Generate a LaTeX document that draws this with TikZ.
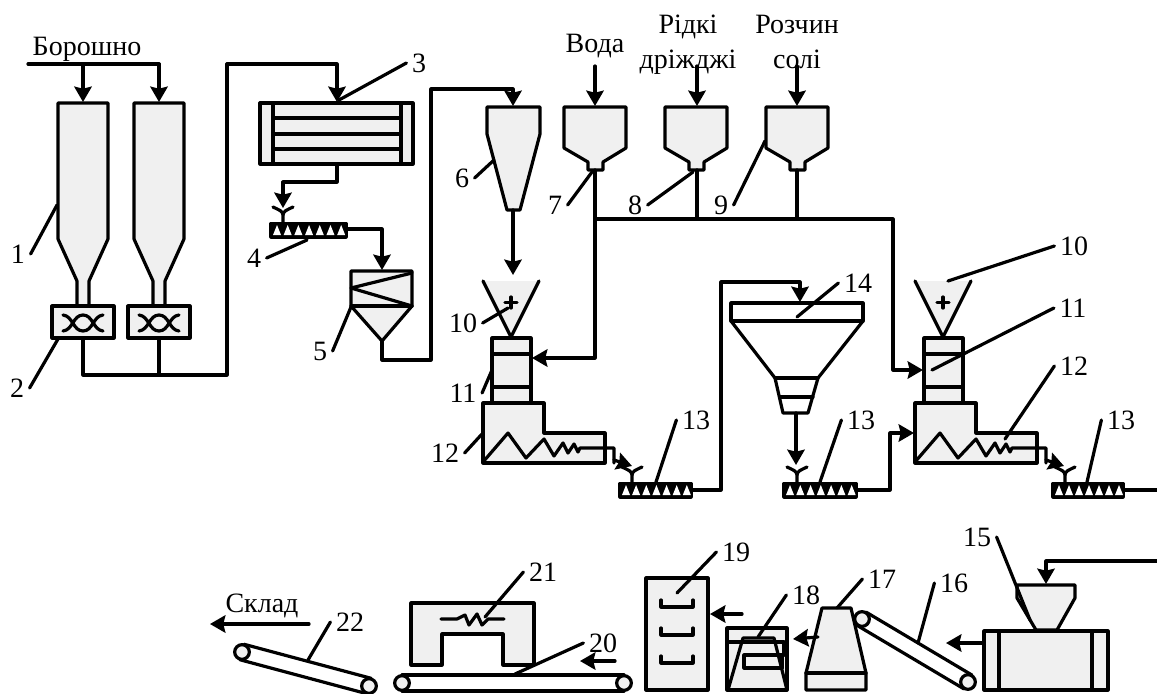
\documentclass[tikz,border=0pt]{standalone}
\usepackage{fontspec}
\setmainfont{Liberation Serif}
\usepackage{xcolor}
\usetikzlibrary{arrows.meta,calc}
\definecolor{unitgray}{HTML}{F0F0F0}
\tikzset{
  wire/.style={line width=2.4pt, line join=round, line cap=round},
  unit/.style={wire, fill=unitgray},
  flow/.style={wire, -{Stealth[length=11.5pt,width=13pt,inset=1.5pt]}},
  numlabel/.style={inner sep=4pt, font=\fontsize{21}{24}\selectfont},
  textlabel/.style={inner sep=0pt, anchor=base, font=\fontsize{21}{24}\selectfont},
}
\begin{document}
\begin{tikzpicture}[x=0.75pt, y=-0.75pt]
  \useasboundingbox (0,0) rectangle (1157,693);

  % silos 1 and mixers 2
  \foreach \sx in {83,159} {
    \draw[unit] (\sx-25,103) -- (\sx+25,103) -- (\sx+25,239) -- (\sx+6,281) -- (\sx+6,306)
      -- (\sx-6,306) -- (\sx-6,281) -- (\sx-25,239) -- cycle;
    \draw[unit] (\sx-31,306) rectangle (\sx+31,338);
    \draw[wire] (\sx-20,315) .. controls (\sx-10,316) and (\sx-10,331) .. (\sx,331)
      .. controls (\sx+10,331) and (\sx+10,316) .. (\sx+20,315);
    \draw[wire] (\sx-20,331) .. controls (\sx-10,330) and (\sx-10,315) .. (\sx,315)
      .. controls (\sx+10,315) and (\sx+10,330) .. (\sx+20,331);
  }

  % heat exchanger 3
  \draw[unit] (260,103) rectangle (413,164);
  \draw[wire] (273,103) -- (273,164);
  \draw[wire] (401,103) -- (401,164);
  \foreach \ly in {118,134,149} \draw[wire] (273,\ly) -- (401,\ly);

  % screws 4 and 13
  \foreach \sx/\sy/\sw/\st in {270/222/77/283, 619/482/73/632, 783/482/74/797, 1052/482/72/1065} {
    \fill[black, draw=black, wire] (\sx+1,\sy+1.5) rectangle (\sx+\sw-1,\sy+15);
    \foreach \k in {0,...,6}
      \fill[white] (\sx+7+\k*\sw/7.2-4,\sy+13) -- (\sx+7+\k*\sw/7.2+4,\sy+13) -- (\sx+7+\k*\sw/7.2,\sy+3) -- cycle;
    \draw[wire] (\st-10,\sy-15) .. controls (\st-4,\sy-12) and (\st,\sy-11) .. (\st,\sy-7) -- (\st,\sy);
    \draw[wire] (\st+10,\sy-15) .. controls (\st+4,\sy-12) and (\st,\sy-11) .. (\st,\sy-7);
  }

  % bunker 5
  \draw[unit] (351,271) -- (412,271) -- (412,306) -- (382,341) -- (351,306) -- cycle;
  \draw[wire] (351,306) -- (412,306);
  \draw[wire] (412,273) -- (351,288) -- (412,306);

  % cyclone 6
  \draw[unit] (487,107) -- (540,107) -- (540,134) -- (520,210) -- (507,210) -- (487,134) -- cycle;

  % tanks 7, 8, 9
  \foreach \sx in {595,696,797} {
    \draw[unit] (\sx-31,107) -- (\sx+31,107) -- (\sx+31,148) -- (\sx+8,162) -- (\sx+8,170)
      -- (\sx-7,170) -- (\sx-7,162) -- (\sx-31,148) -- cycle;
  }

  % dosers 10, kneaders 11, tanks 12
  \foreach \sx in {0,432} {
    \fill[unitgray] (\sx+483,281) -- (\sx+539,281) -- (\sx+511,337) -- cycle;
    \draw[wire] (\sx+483,281) -- (\sx+511,337) -- (\sx+539,281);
    \draw[wire] (\sx+505,302.5) -- (\sx+517,302.5);
    \draw[wire] (\sx+511,297) -- (\sx+511,308);
    \draw[unit] (\sx+492,338) rectangle (\sx+531,403);
    \draw[wire] (\sx+492,354) -- (\sx+531,354);
    \draw[wire] (\sx+492,387) -- (\sx+531,387);
    \draw[unit] (\sx+483,403) -- (\sx+544,403) -- (\sx+544,433) -- (\sx+605,433) -- (\sx+605,463)
      -- (\sx+483,463) -- cycle;
    \draw[wire] (\sx+483,462) -- (\sx+508,433) -- (\sx+526,458) -- (\sx+544,439) -- (\sx+554,456)
      -- (\sx+563,443) -- (\sx+568,453) -- (\sx+574,444) -- (\sx+578,452) -- (\sx+580,448) -- (\sx+614,448) -- (\sx+614,463);
    \draw[flow] (\sx+614,460) -- (\sx+632,466);
  }

  % bunker 14
  \draw[wire] (731,303) rectangle (863,321);
  \draw[wire] (731,321) -- (775,378) -- (783,413) -- (808,413) -- (818,378) -- (863,321);
  \draw[wire] (775,378) -- (818,378);
  \draw[wire] (780,397) -- (813,397);

  % extruder 15
  \draw[unit] (984,631) rectangle (1108,690);
  \draw[wire] (999,631) -- (999,690);
  \draw[wire] (1092,631) -- (1092,690);
  \draw[unit] (1017,585) -- (1075,585) -- (1075,598) -- (1057,630) -- (1036,630) -- (1017,598) -- cycle;

  % conveyors 16, 20, 22
  \foreach \bname/\ax/\ay/\bx/\by in {one/862/619/968/682, two/402/683/624/683, three/242/652/369/686} {
    \coordinate (\bname a) at (\ax,\ay);
    \coordinate (\bname b) at (\bx,\by);
    \draw[wire] ($(\bname a)!6pt!90:(\bname b)$) -- ($(\bname b)!6pt!-90:(\bname a)$);
    \draw[wire] ($(\bname a)!6pt!-90:(\bname b)$) -- ($(\bname b)!6pt!90:(\bname a)$);
    \draw[unit] (\bname a) circle (5.5pt);
    \draw[unit] (\bname b) circle (5.5pt);
  }

  % former 17, proofer 18, oven 19, oven 21
  \draw[unit] (822,608) -- (851,608) -- (866,673) -- (866,690) -- (806,690) -- (806,673) -- cycle;
  \draw[wire] (806,673) -- (866,673);
  \draw[unit] (727,628) rectangle (787,690);
  \draw[wire] (727,642) -- (784,642) -- (784,655) -- (744,655) -- (744,668) -- (782,668);
  \draw[wire] (728,690) -- (743,638) -- (774,638) -- (787,690);
  \draw[wire] (782,655) -- (782,668);
  \draw[unit] (646,578) rectangle (708,690);
  \foreach \ty in {607,635,663}
    \draw[wire] (661,\ty-7) -- (661,\ty) -- (693,\ty) -- (693,\ty-7);
  \draw[unit] (411,603) -- (534,603) -- (534,665) -- (503,665) -- (503,634) -- (442,634) -- (442,665) -- (411,665) -- cycle;
  \draw[wire] (441,619) -- (457,619) -- (465,615) -- (469,625) -- (477,614) -- (482,625) -- (488,619) -- (504,619);

  % ports for connectors
  \coordinate (flourin) at (28,64);
  \coordinate (siloin1) at (83,102);
  \coordinate (siloin2) at (159,102);
  \coordinate (mixout1) at (83,338);
  \coordinate (mixout2) at (159,338);
  \coordinate (joint) at (159,375);
  \coordinate (exchin) at (337,102);
  \coordinate (exchout) at (337,164);
  \coordinate (screwin) at (283,208);
  \coordinate (screwout) at (347,229);
  \coordinate (bunkerin) at (382,270);
  \coordinate (bunkerout) at (382,341);
  \coordinate (cyclonein) at (513,106);
  \coordinate (cycloneout) at (513,210);
  \coordinate (doserin) at (513,275);
  \coordinate (waterin) at (595,66);
  \coordinate (waterto) at (595,106);
  \coordinate (yeastin) at (697,66);
  \coordinate (yeastto) at (697,106);
  \coordinate (saltin) at (797,66);
  \coordinate (saltto) at (797,106);
  \coordinate (tankout1) at (595,170);
  \coordinate (tankout2) at (697,170);
  \coordinate (tankout3) at (797,170);
  \coordinate (mainline) at (595,219);
  \coordinate (kneadleft) at (532,358);
  \coordinate (kneadright) at (923,370);
  \coordinate (screwoutb) at (692,490);
  \coordinate (bunkin) at (800,302);
  \coordinate (bunkout) at (796,413);
  \coordinate (screwinb) at (796,465);
  \coordinate (screwoutc) at (857,490);
  \coordinate (tankin) at (914,433);
  \coordinate (screwoutd) at (1124,490);
  \coordinate (edgeright) at (1157,490);
  \coordinate (edgefeed) at (1157,561);
  \coordinate (extrin) at (1046,584);

  % connectors
  \draw[wire] (flourin) -| (159,80);
  \draw[flow] (siloin2 |- flourin) -- (siloin2);
  \draw[flow] (siloin1 |- flourin) -- (siloin1);
  \draw[wire] (mixout1) |- (joint);
  \draw[wire] (mixout2) -- (joint);
  \draw[flow] (joint) -- (227,375) -- (227,64) -- (337,64) -- (exchin);
  \draw[flow] (exchout) -- (337,182) -- (283,182) -- (screwin);
  \draw[flow] (screwout) -- (382,229) -- (bunkerin);
  \draw[flow] (bunkerout) -- (382,360) -- (431,360) -- (431,89) -- (513,89) -- (cyclonein);
  \draw[flow] (cycloneout) -- (doserin);
  \draw[flow] (waterin) -- (waterto);
  \draw[flow] (yeastin) -- (yeastto);
  \draw[flow] (saltin) -- (saltto);
  \draw[flow] (tankout1) -- (595,358) -- (kneadleft);
  \draw[flow] (mainline) -- (893,219) -- (893,370) -- (kneadright);
  \draw[wire] (tankout2) -- (697,219);
  \draw[wire] (tankout3) -- (797,219);
  \draw[flow] (screwoutb) -- (721,490) -- (721,282) -- (800,282) -- (bunkin);
  \draw[flow] (bunkout) -- (screwinb);
  \draw[flow] (screwoutc) -- (890,490) -- (890,433) -- (tankin);
  \draw[wire] (screwoutd) -- (edgeright);
  \draw[flow] (edgefeed) -- (1046,561) -- (extrin);

  % arrows between machines
  \coordinate (extrout) at (982,643);
  \coordinate (beltin) at (946,643);
  \draw[flow] (extrout) -- (beltin);
  \coordinate (formerout) at (818,637);
  \coordinate (prooferin) at (793,639);
  \draw[flow] (formerout) -- (prooferin);
  \coordinate (prooferout) at (742,614);
  \coordinate (ovenin) at (710,614);
  \draw[flow] (prooferout) -- (ovenin);
  \coordinate (beltback) at (615,661);
  \coordinate (beltfront) at (580,661);
  \draw[flow] (beltback) -- (beltfront);
  \coordinate (storefrom) at (309,624);
  \coordinate (storeto) at (210,624);
  \draw[flow] (storefrom) -- (storeto);

  % texts
  \node[textlabel] (flourtext) at (87,55) {Борошно};
  \node[textlabel] (watertext) at (595,52) {Вода};
  \node[textlabel] (yeasttexta) at (688,33) {Рідкі};
  \node[textlabel] (yeasttextb) at (688,68) {дріжджі};
  \node[textlabel] (salttexta) at (797,33) {Розчин};
  \node[textlabel] (salttextb) at (797,68) {солі};
  \node[textlabel] (storetext) at (262,612) {Склад};

  % numbers with their leaders
  \foreach \nname/\ntext/\nx/\ny/\nside/\px/\py in {
    a1/1/18/254/east/57/205, a2/2/17/388/east/58/339, a3/3/419/63/west/339/100,
    a4/4/254/258/east/307/240, a5/5/320/351/east/351/307, a6/6/462/178/east/494/160,
    a7/7/555/205/east/592/172, a8/8/635/205/east/693/172, a9/9/721/205/east/765/141,
    b10/10/463/323/east/508/308, b11/11/463/393/east/492/370, b12/12/445/453/east/482/434,
    b13/13/696/420/west/656/482, c13/13/861/420/west/820/482, c14/14/858/283/west/797/317,
    d10/10/1074/246/west/948/281, d11/11/1073/308/west/932/370, d12/12/1074/366/west/1005/439,
    d13/13/1121/420/west/1087/482, e15/15/977/537/east/1030/620, e16/16/954/583/west/918/643,
    e17/17/882/579/west/837/608, e18/18/806/595/west/758/637, e19/19/736/552/west/677/593,
    f20/20/603/643/west/515/674, f21/21/543/572/west/485/617, f22/22/350/622/west/308/660} {
    \node[numlabel] (n\nname) at (\nx,\ny) {\ntext};
    \draw[wire] (n\nname.\nside) -- (\px,\py);
  }
\end{tikzpicture}
\end{document}
